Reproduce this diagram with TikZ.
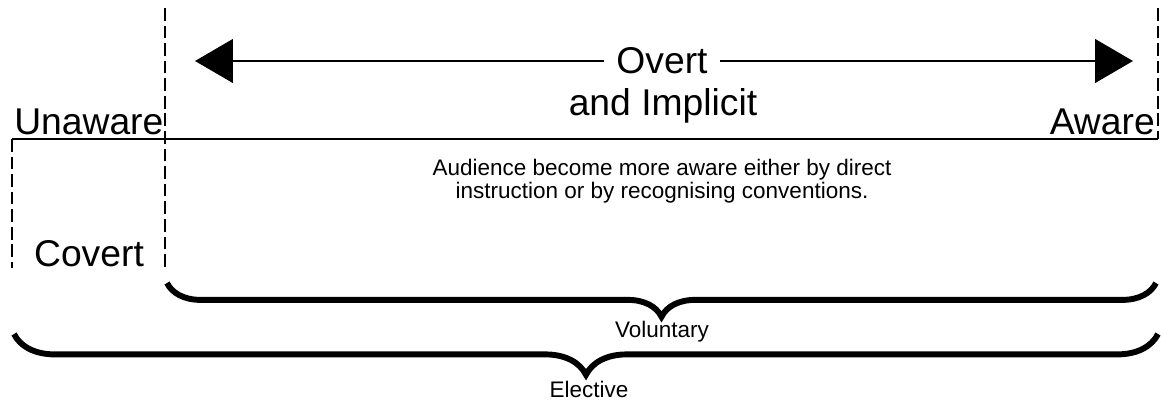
\documentclass[tikz,border=0pt]{standalone}
\usepackage{fontspec}
\setmainfont{Liberation Sans}
\usepackage{tikz}
\usetikzlibrary{positioning,calc,decorations.pathreplacing,arrows.meta}

\tikzset{
    border/.style={line width=1.9pt, dash pattern=on 9pt off 3.5pt},
    bigbrace/.style={decorate, line width=4.2pt,
        decoration={brace, mirror, amplitude=#1}},
    bigtext/.style={font=\fontsize{26.5}{30}\selectfont, inner sep=0pt},
    smalltext/.style={font=\fontsize{16}{16.4}\selectfont, inner sep=0pt}
}

\begin{document}
\begin{tikzpicture}[x=0.025cm, y=-0.025cm]
    \useasboundingbox (0,0) rectangle (1161,401);

    % Frame
    \coordinate (topmid) at (165,8);
    \coordinate (topright) at (1158,8);
    \coordinate (left) at (12,139);
    \coordinate (mid) at (165,139);
    \coordinate (right) at (1158,139);
    \coordinate (botleft) at (12,268);
    \coordinate (botmid) at (165,270);
    \draw[line width=1.9pt] (left) -- (right);
    \draw[border] (topmid) -- (botmid);
    \draw[border] (topright) -- (right);
    \draw[border] (left) -- (botleft);

    % Labels
    \node[bigtext, anchor=base west] (unaware) at (14,134) {Unaware};
    \node[bigtext, anchor=base east] (aware) at (1155,134) {Aware};
    \node[bigtext] (covert) at (89,254) {Covert};
    \node[bigtext] (implicit) at (663,106) {and Implicit};
    \node[smalltext, align=center] (note) at (662,181)
        {Audience become more aware either by direct\\instruction or by recognising conventions.};

    % Arrow
    \coordinate (arrowl) at (195,61);
    \coordinate (arrowr) at (1133,61);
    \draw[line width=1.8pt, {Triangle[length=27pt,width=31pt]}-{Triangle[length=27pt,width=31pt]}]
        (arrowl) -- (arrowr);
    \node[bigtext, fill=white, inner xsep=9pt, inner ysep=2pt] (overt) at (662,61) {Overt};

    % Braces
    \coordinate (volstart) at (167,283);
    \coordinate (volend) at (1156,283);
    \draw[bigbrace=24pt] (volstart) -- (volend);
    \node[smalltext] (voluntary) at (662,332) {Voluntary};

    \coordinate (elestart) at (14,334);
    \coordinate (eleend) at (1158,334);
    \draw[bigbrace=29pt] (elestart) -- (eleend);
    \node[smalltext] (elective) at (589,389) {Elective};
\end{tikzpicture}
\end{document}
